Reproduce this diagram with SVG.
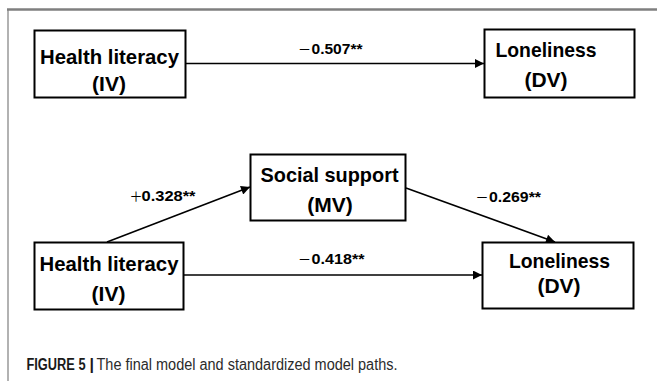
<svg xmlns="http://www.w3.org/2000/svg" width="657" height="381" viewBox="0 0 657 381">
  <style>
    .box { fill: #ffffff; stroke: #000000; stroke-width: 2; }
    .lbl { font-family: "Liberation Sans", Arial, sans-serif; font-weight: bold; font-size: 21px; fill: #000000; text-anchor: middle; }
    .coef { font-family: "Liberation Sans", Arial, sans-serif; font-weight: bold; font-size: 14px; fill: #000000; }
    .sign { font-family: "Noto Sans CJK SC", "Liberation Sans", sans-serif; font-weight: normal; font-size: 13px; }
    .edge { stroke: #000000; stroke-width: 1.6; fill: none; }
    .frame { stroke: #7f7f7f; fill: none; }
    .cap { font-family: "Liberation Sans", Arial, sans-serif; font-size: 16px; fill: #2b2b2b; }
    .capb { font-weight: bold; fill: #1a1a1a; }
  </style>
  <defs>
    <marker id="arrow" viewBox="0 0 10 10" refX="10" refY="5" markerWidth="11" markerHeight="9" markerUnits="userSpaceOnUse" orient="auto">
      <path d="M0,0 L10,5 L0,10 z" fill="#000000"/>
    </marker>
  </defs>
  <rect x="0" y="0" width="657" height="381" fill="#ffffff"/>
  <g id="frame">
    <line class="frame" x1="7" y1="9.5" x2="657" y2="9.5" stroke-width="2.5"/>
    <line class="frame" x1="8" y1="9" x2="8" y2="381" stroke-width="1.2" stroke="#444"/>
  </g>
  <g id="connectors">
    <line class="edge" x1="186" y1="63.5" x2="484" y2="63.5" marker-end="url(#arrow)"/>
    <line class="edge" x1="107" y1="242" x2="250" y2="187" marker-end="url(#arrow)"/>
    <line class="edge" x1="406" y1="188" x2="555" y2="242" marker-end="url(#arrow)"/>
    <line class="edge" x1="184" y1="275" x2="482" y2="275" marker-end="url(#arrow)"/>
    <text class="coef" x="298" y="53.5"><tspan class="sign">－</tspan><tspan x="311.5" textLength="51" lengthAdjust="spacingAndGlyphs">0.507**</tspan></text>
    <text class="coef" x="129.5" y="201"><tspan class="sign">＋</tspan><tspan x="141.5" textLength="54" lengthAdjust="spacingAndGlyphs">0.328**</tspan></text>
    <text class="coef" x="475.5" y="201.5"><tspan class="sign">－</tspan><tspan x="489" textLength="52" lengthAdjust="spacingAndGlyphs">0.269**</tspan></text>
    <text class="coef" x="298" y="263.5"><tspan class="sign">－</tspan><tspan x="311.5" textLength="53" lengthAdjust="spacingAndGlyphs">0.418**</tspan></text>
  </g>
  <g id="iv-top">
    <rect class="box" x="34.5" y="30.5" width="151" height="67"/>
    <text class="lbl" x="109.5" y="64" textLength="139" lengthAdjust="spacingAndGlyphs">Health literacy</text>
    <text class="lbl" x="109" y="90.5">(IV)</text>
  </g>
  <g id="dv-top">
    <rect class="box" x="484.5" y="29.5" width="150" height="68"/>
    <text class="lbl" x="546" y="56.5" textLength="101" lengthAdjust="spacingAndGlyphs">Loneliness</text>
    <text class="lbl" x="546" y="86.5">(DV)</text>
  </g>
  <g id="mv">
    <rect class="box" x="250.5" y="154.5" width="155" height="66"/>
    <text class="lbl" x="329.5" y="182" textLength="138" lengthAdjust="spacingAndGlyphs">Social support</text>
    <text class="lbl" x="330" y="211.5">(MV)</text>
  </g>
  <g id="iv-bottom">
    <rect class="box" x="34.5" y="242.5" width="149" height="67"/>
    <text class="lbl" x="109" y="271" textLength="139" lengthAdjust="spacingAndGlyphs">Health literacy</text>
    <text class="lbl" x="108.5" y="300.5">(IV)</text>
  </g>
  <g id="dv-bottom">
    <rect class="box" x="482.5" y="242.5" width="151" height="66"/>
    <text class="lbl" x="559.5" y="267.5" textLength="101" lengthAdjust="spacingAndGlyphs">Loneliness</text>
    <text class="lbl" x="559" y="293">(DV)</text>
  </g>
  <g id="caption">
    <text class="cap" x="26.5" y="370"><tspan class="capb" textLength="59" lengthAdjust="spacingAndGlyphs">FIGURE 5</tspan><tspan class="capb" x="89.5">|</tspan><tspan x="96.5" textLength="301" lengthAdjust="spacingAndGlyphs">The final model and standardized model paths.</tspan></text>
  </g>
</svg>
